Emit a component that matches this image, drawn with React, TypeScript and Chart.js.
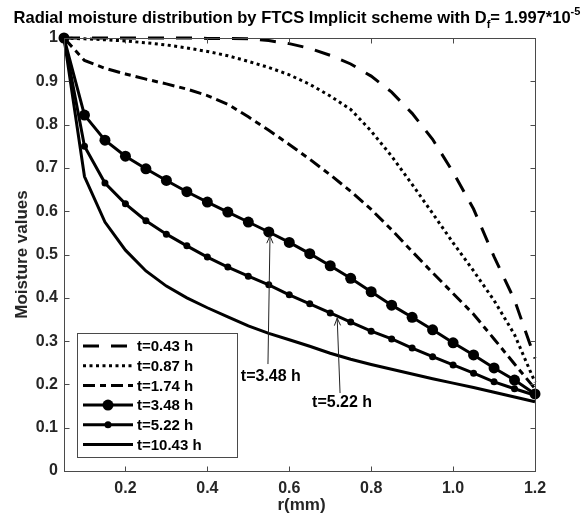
import React, { useEffect, useRef } from 'react';
import { Chart, registerables } from 'chart.js';

Chart.register(...registerables);

const rValues = [0.05, 0.1, 0.15, 0.2, 0.25, 0.3, 0.35, 0.4, 0.45, 0.5, 0.55, 0.6, 0.65, 0.7, 0.75, 0.8, 0.85, 0.9, 0.95, 1.0, 1.05, 1.1, 1.15, 1.2];
const t043 = [1.0, 1.0, 1.0, 1.0, 1.0, 1.0, 1.0, 0.999, 0.999, 0.998, 0.994, 0.987, 0.976, 0.96, 0.94, 0.912, 0.875, 0.826, 0.766, 0.69, 0.605, 0.495, 0.395, 0.26];
const t087 = [1.0, 0.998, 0.996, 0.993, 0.989, 0.984, 0.977, 0.969, 0.959, 0.946, 0.932, 0.915, 0.893, 0.866, 0.835, 0.785, 0.727, 0.662, 0.595, 0.527, 0.462, 0.394, 0.315, 0.205];
const t174 = [1.0, 0.948, 0.93, 0.917, 0.905, 0.894, 0.882, 0.867, 0.847, 0.818, 0.787, 0.754, 0.72, 0.684, 0.646, 0.604, 0.557, 0.507, 0.458, 0.41, 0.362, 0.305, 0.247, 0.19];
const t348 = [1.0, 0.822, 0.764, 0.727, 0.698, 0.671, 0.645, 0.621, 0.598, 0.575, 0.552, 0.528, 0.502, 0.474, 0.445, 0.414, 0.383, 0.355, 0.326, 0.296, 0.268, 0.238, 0.21, 0.178];
const t522 = [1.0, 0.75, 0.665, 0.617, 0.578, 0.547, 0.52, 0.494, 0.471, 0.45, 0.43, 0.407, 0.386, 0.365, 0.344, 0.323, 0.305, 0.284, 0.264, 0.245, 0.226, 0.206, 0.19, 0.175];
const t1043 = [1.0, 0.68, 0.575, 0.51, 0.462, 0.427, 0.4, 0.377, 0.356, 0.335, 0.318, 0.303, 0.288, 0.272, 0.258, 0.246, 0.235, 0.224, 0.213, 0.203, 0.193, 0.182, 0.171, 0.16];

const seriesLabels = ['t=0.43 h', 't=0.87 h', 't=1.74 h', 't=3.48 h', 't=5.22 h', 't=10.43 h'];
const xTicks = [0.2, 0.4, 0.6, 0.8, 1.0, 1.2];
const yTicks = [0, 0.1, 0.2, 0.3, 0.4, 0.5, 0.6, 0.7, 0.8, 0.9, 1];

const titleMain = 'Radial moisture distribution by FTCS Implicit scheme with D';
const titleSub = 'f';
const titleMid = '= 1.997*10';
const titleSup = '-5';
const xTitle = 'r(mm)';
const yTitle = 'Moisture values';

// annotations: [label, textX, textY, tailX, tailY, headX, headY] in data units
const annotations: [string, number, number, number, number, number, number][] = [
  ['t=3.48 h', 0.555, 0.217, 0.548, 0.247, 0.553, 0.543],
  ['t=5.22 h', 0.729, 0.157, 0.724, 0.18, 0.717, 0.353],
];

const FONT = '"Liberation Sans", Arial, Helvetica, sans-serif';

const decor = {
  id: 'matlabDecor',
  afterDraw(chart: any) {
    const { ctx, chartArea: a, scales } = chart;
    const xs = scales.x;
    const ys = scales.y;
    ctx.save();
    const L = Math.round(a.left) + 0.5;
    const R = Math.round(a.right) + 0.5;
    const T = Math.round(a.top) + 0.5;
    const B = Math.round(a.bottom) + 0.5;
    ctx.strokeStyle = '#4a4a4a';
    ctx.lineWidth = 1;
    ctx.setLineDash([]);
    ctx.strokeRect(L, T, R - L, B - T);
    const tl = 5;
    ctx.beginPath();
    xTicks.forEach((v) => {
      const px = Math.round(xs.getPixelForValue(v)) + 0.5;
      ctx.moveTo(px, B); ctx.lineTo(px, B - tl);
      ctx.moveTo(px, T); ctx.lineTo(px, T + tl);
    });
    yTicks.forEach((v) => {
      const py = Math.round(ys.getPixelForValue(v)) + 0.5;
      ctx.moveTo(L, py); ctx.lineTo(L + tl, py);
      ctx.moveTo(R, py); ctx.lineTo(R - tl, py);
    });
    ctx.stroke();

    // title
    ctx.fillStyle = '#000';
    ctx.textBaseline = 'alphabetic';
    ctx.textAlign = 'left';
    const fMain = `bold 16.5px ${FONT}`;
    const fSmall = `bold 11px ${FONT}`;
    ctx.font = fMain;
    const w1 = ctx.measureText(titleMain).width;
    const w3 = ctx.measureText(titleMid).width;
    ctx.font = fSmall;
    const w2 = ctx.measureText(titleSub).width;
    const w4 = ctx.measureText(titleSup).width;
    const total = w1 + w2 + w3 + w4;
    let tx = 297 - total / 2;
    const ty = 23;
    ctx.font = fMain; ctx.fillText(titleMain, tx, ty); tx += w1;
    ctx.font = fSmall; ctx.fillText(titleSub, tx, ty + 5); tx += w2;
    ctx.font = fMain; ctx.fillText(titleMid, tx, ty); tx += w3;
    ctx.font = fSmall; ctx.fillText(titleSup, tx, ty - 8);

    // axis titles
    ctx.font = `bold 17px ${FONT}`;
    ctx.fillStyle = '#262626';
    ctx.textAlign = 'center';
    ctx.textBaseline = 'middle';
    ctx.fillText(xTitle, (a.left + a.right) / 2 + 2, 505);
    ctx.save();
    ctx.translate(22, (a.top + a.bottom) / 2);
    ctx.rotate(-Math.PI / 2);
    ctx.fillText(yTitle, 0, 0);
    ctx.restore();

    // legend
    const lx = 77.5, ly = 333.5, lw = 160, lh = 124;
    ctx.fillStyle = '#fff';
    ctx.fillRect(lx, ly, lw, lh);
    ctx.strokeStyle = '#4a4a4a';
    ctx.lineWidth = 1;
    ctx.setLineDash([]);
    ctx.strokeRect(lx, ly, lw, lh);
    chart.data.datasets.forEach((ds: any, i: number) => {
      const ry = 346 + i * 19.7;
      ctx.strokeStyle = '#000';
      ctx.lineWidth = ds.borderWidth;
      ctx.lineCap = 'butt';
      ctx.setLineDash(ds.borderDash || []);
      ctx.beginPath();
      ctx.moveTo(83, ry); ctx.lineTo(133, ry);
      ctx.stroke();
      ctx.setLineDash([]);
      if (ds.pointRadius > 0) {
        ctx.fillStyle = '#000';
        ctx.beginPath();
        ctx.arc(108, ry, ds.pointRadius, 0, Math.PI * 2);
        ctx.fill();
      }
      ctx.fillStyle = '#000';
      ctx.font = `bold 15px ${FONT}`;
      ctx.textAlign = 'left';
      ctx.textBaseline = 'middle';
      ctx.fillText(ds.label, 137, ry + 1);
    });

    // annotations
    annotations.forEach(([label, tX, tY, x0, y0, x1, y1]) => {
      const px0 = xs.getPixelForValue(x0), py0 = ys.getPixelForValue(y0);
      const px1 = xs.getPixelForValue(x1), py1 = ys.getPixelForValue(y1);
      ctx.strokeStyle = '#222';
      ctx.lineWidth = 1;
      ctx.setLineDash([]);
      ctx.beginPath();
      ctx.moveTo(px0, py0); ctx.lineTo(px1, py1);
      const ang = Math.atan2(py1 - py0, px1 - px0);
      const hl = 8, ha = 0.4;
      ctx.moveTo(px1 - hl * Math.cos(ang - ha), py1 - hl * Math.sin(ang - ha));
      ctx.lineTo(px1, py1);
      ctx.lineTo(px1 - hl * Math.cos(ang + ha), py1 - hl * Math.sin(ang + ha));
      ctx.stroke();
      ctx.fillStyle = '#000';
      ctx.font = `bold 16px ${FONT}`;
      ctx.textAlign = 'center';
      ctx.textBaseline = 'middle';
      ctx.fillText(label, xs.getPixelForValue(tX), ys.getPixelForValue(tY));
    });
    ctx.restore();
  },
};

function mk(label: string, vals: number[], dash: number[], radius: number) {
  return {
    label,
    data: rValues.map((r, i) => ({ x: r, y: vals[i] })),
    borderColor: '#000',
    backgroundColor: '#000',
    borderWidth: 3,
    borderDash: dash,
    borderCapStyle: 'butt',
    pointRadius: radius,
    pointHoverRadius: radius,
    pointBorderWidth: 0,
    pointBackgroundColor: '#000',
    fill: false,
    tension: 0,
    clip: false,
  };
}

export default function App() {
  const ref = useRef<HTMLCanvasElement | null>(null);
  useEffect(() => {
    if (!ref.current) return;
    const chart = new Chart(ref.current, {
      type: 'line',
      data: {
        datasets: [
          mk(seriesLabels[0], t043, [16, 12], 0),
          mk(seriesLabels[1], t087, [3, 3.5], 0),
          mk(seriesLabels[2], t174, [12, 5, 6, 5], 0),
          mk(seriesLabels[3], t348, [], 5.5),
          mk(seriesLabels[4], t522, [], 3.5),
          mk(seriesLabels[5], t1043, [], 0),
        ] as any,
      },
      options: {
        animation: false,
        responsive: true,
        maintainAspectRatio: false,
        events: [],
        layout: { padding: { left: 0, right: 52, top: 38, bottom: 0 } },
        plugins: {
          legend: { display: false },
          title: { display: false },
          tooltip: { enabled: false },
        },
        scales: {
          x: {
            type: 'linear',
            min: 0.05,
            max: 1.2,
            grid: { display: false, drawTicks: false },
            border: { display: false },
            afterBuildTicks: (s: any) => { s.ticks = xTicks.map((v) => ({ value: v })); },
            afterFit: (s: any) => { s.height = 46; },
            ticks: {
              padding: 8,
              color: '#262626',
              font: { family: FONT, weight: 'bold', size: 16 },
              maxRotation: 0,
              autoSkip: false,
              callback: (v: any) => Number(v).toFixed(1),
            },
          },
          y: {
            type: 'linear',
            min: 0,
            max: 1,
            grid: { display: false, drawTicks: false },
            border: { display: false },
            afterBuildTicks: (s: any) => { s.ticks = yTicks.map((v) => ({ value: v })); },
            afterFit: (s: any) => { s.width = 64; },
            ticks: {
              padding: 6,
              color: '#262626',
              font: { family: FONT, weight: 'bold', size: 16 },
              autoSkip: false,
              callback: (v: any) => (v === 0 ? '0' : v === 1 ? '1' : Number(v).toFixed(1)),
            },
          },
        },
      },
      plugins: [decor],
    });
    return () => chart.destroy();
  }, []);
  return (
    <div style={{ position: 'absolute', left: 0, top: 0, width: 587, height: 517, background: '#fff' }}>
      <canvas ref={ref} />
    </div>
  );
}
